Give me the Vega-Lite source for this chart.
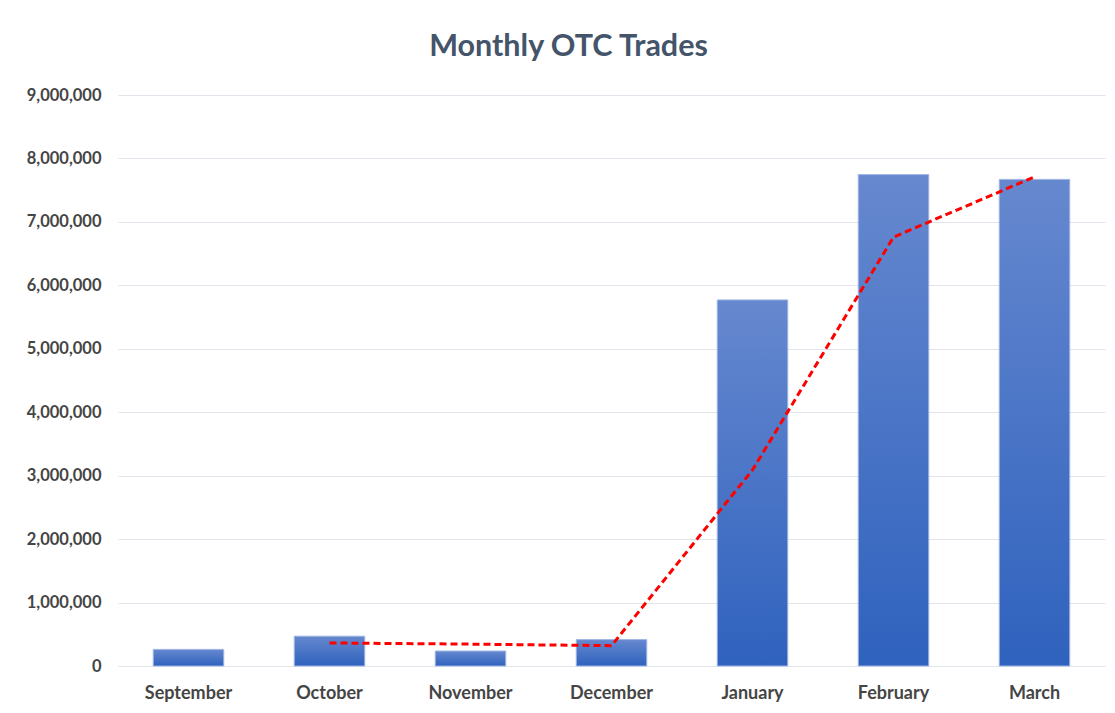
{
  "$schema": "https://vega.github.io/schema/vega-lite/v6.json",
  "autosize": "none",
  "width": 987,
  "height": 571,
  "padding": {"left": 118, "top": 95, "right": 10, "bottom": 47},
  "background": "#ffffff",
  "title": {
    "text": "Monthly OTC Trades",
    "font": "Lato",
    "fontSize": 30.5,
    "fontWeight": "bold",
    "color": "#44546a",
    "anchor": "middle",
    "dx": -43,
    "offset": 1,
    "baseline": "alphabetic"
  },
  "config": {
    "view": {"stroke": null},
    "axis": {"labelFont": "Lato", "labelFontWeight": "bold", "labelColor": "#454545", "domain": false, "ticks": false, "title": null}
  },
  "data": {
    "values": [
      {"month": "September", "trades": 262000, "ma": null},
      {"month": "October", "trades": 470000, "ma": 363000},
      {"month": "November", "trades": 236000, "ma": 345000},
      {"month": "December", "trades": 416000, "ma": 320000},
      {"month": "January", "trades": 5770000, "ma": 3090000},
      {"month": "February", "trades": 7745000, "ma": 6760000},
      {"month": "March", "trades": 7670000, "ma": 7710000}
    ]
  },
  "encoding": {
    "x": {
      "field": "month",
      "type": "nominal",
      "sort": null,
      "scale": {"paddingInner": 0.5, "paddingOuter": 0.25},
      "axis": {"labelAngle": 0, "labelFontSize": 18, "labelPadding": 18, "grid": false}
    }
  },
  "layer": [
    {
      "mark": {
        "type": "bar",
        "stroke": "#9fb5e2",
        "strokeWidth": 1,
        "color": {
          "gradient": "linear",
          "x1": 0, "y1": 0, "x2": 0, "y2": 1,
          "stops": [
            {"offset": 0, "color": "#6688cf"},
            {"offset": 1, "color": "#2f62be"}
          ]
        }
      },
      "encoding": {
        "y": {
          "field": "trades",
          "type": "quantitative",
          "scale": {"domain": [0, 9000000], "nice": false},
          "axis": {
            "values": [0, 1000000, 2000000, 3000000, 4000000, 5000000, 6000000, 7000000, 8000000, 9000000],
            "format": ",d",
            "labelFontSize": 16.5,
            "labelPadding": 17,
            "gridColor": "#e1e4ea",
            "gridWidth": 1
          }
        }
      }
    },
    {
      "transform": [{"filter": "datum.ma != null"}],
      "mark": {"type": "line", "color": "#ff0000", "strokeWidth": 3, "strokeDash": [7, 4]},
      "encoding": {
        "y": {"field": "ma", "type": "quantitative"}
      }
    }
  ]
}
